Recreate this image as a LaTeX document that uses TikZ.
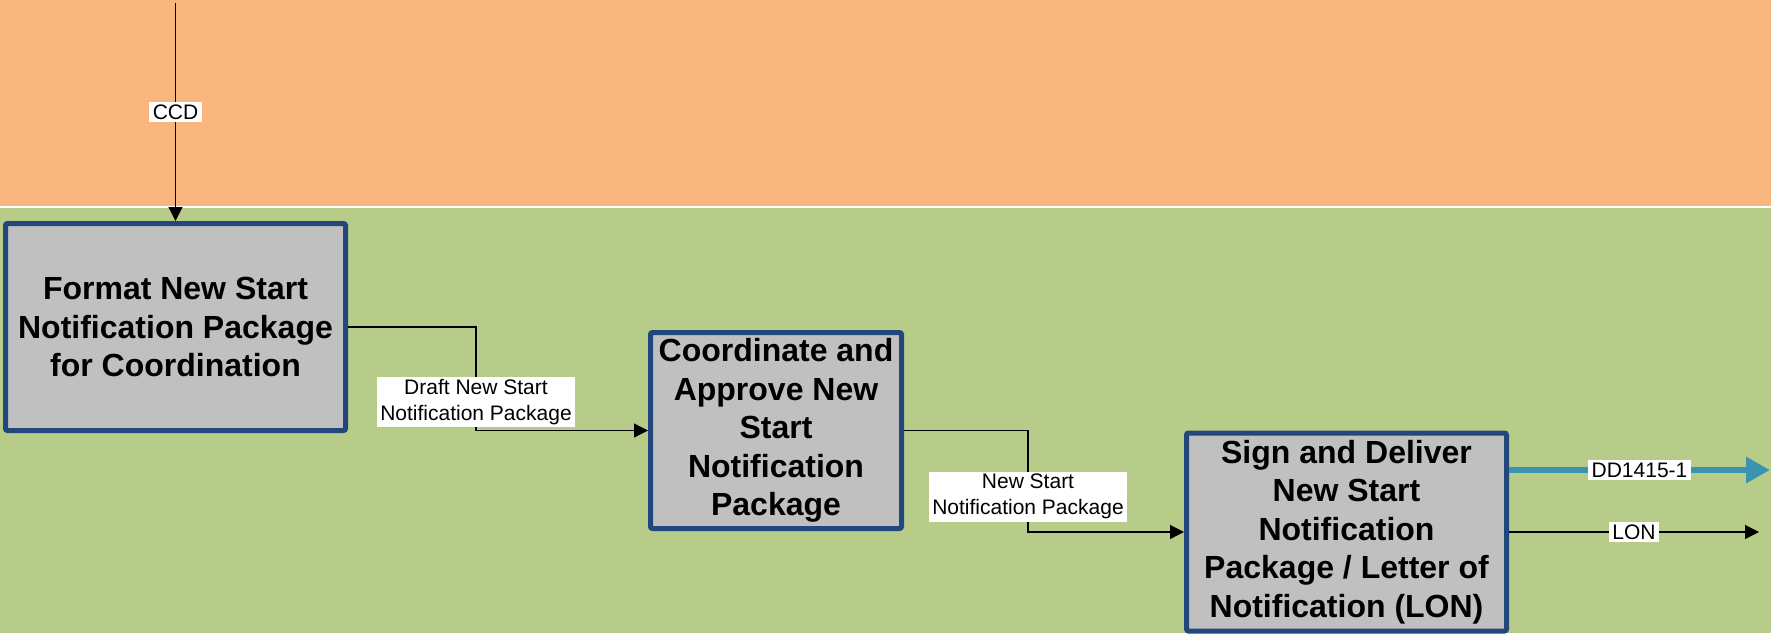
\documentclass[tikz,border=0pt]{standalone}
\usepackage{fontspec}
\setmainfont{Liberation Sans}
\usetikzlibrary{arrows.meta}
\definecolor{lanetop}{RGB}{248,181,126}
\definecolor{lanebottom}{RGB}{184,204,137}
\definecolor{boxfill}{RGB}{192,192,192}
\definecolor{boxline}{RGB}{33,71,125}
\definecolor{tealout}{RGB}{58,148,176}
\begin{document}
\begin{tikzpicture}[x=1pt,y=-1pt,
  act/.style={draw=boxline,line width=5pt,fill=boxfill,rounded corners=2pt,align=center,inner sep=0pt,font=\fontsize{32}{38.5}\selectfont\bfseries},
  lbl/.style={fill=white,text=black,inner xsep=3.5pt,inner ysep=2.5pt,align=center,font=\fontsize{21}{26}\selectfont},
  flow/.style={line width=1.2pt,-{Triangle[length=14pt,width=14pt]}},
  outflow/.style={color=tealout,line width=6pt,-{Triangle[length=24pt,width=25pt]}}]
\path[use as bounding box] (0,0) rectangle (1771,633);
\fill[white] (0,0) rectangle (1771,633);
\fill[lanetop] (0,0) rectangle (1771,206);
\fill[lanebottom] (0,208) rectangle (1771,633);

\node[act,minimum width=340pt,minimum height=207pt] (fmt) at (175.5,327) {Format New Start\\Notification Package\\for Coordination};
\node[act,minimum width=251pt,minimum height=196pt] (coord) at (776,430.5) {Coordinate and\\Approve New\\Start\\Notification\\Package};
\node[act,minimum width=320pt,minimum height=198pt] (sign) at (1346.5,532) {Sign and Deliver\\New Start\\Notification\\Package / Letter of\\Notification (LON)};

\coordinate (ccd) at (175.5,3);
\coordinate (k1) at (476,402);
\coordinate (k2) at (1028,496.5);
\coordinate (dd) at (1770,470);
\coordinate (lon) at (1759,532);

\path[draw,flow] (ccd) -- node[lbl] (ccdlbl) {CCD} (fmt.north);
\path[draw,flow] (fmt.east) -| (k1) |- (coord.west);
\node[lbl] (draftlbl) at (k1) {Draft New Start\\Notification Package};
\path[draw,flow] (coord.east) -| (k2) |- (sign.west);
\node[lbl] (nsnplbl) at (k2) {New Start\\Notification Package};
\path[draw,outflow] (sign.east |- dd) -- node[lbl] (ddlbl) {DD1415-1} (dd);
\path[draw,flow] (sign.east) -- node[lbl] (lonlbl) {LON} (lon);
\end{tikzpicture}
\end{document}
